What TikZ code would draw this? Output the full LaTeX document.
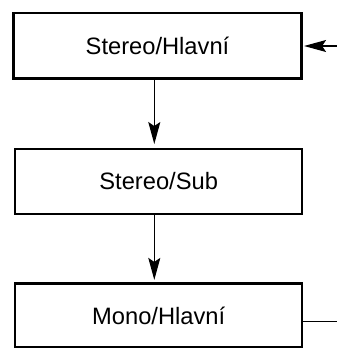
\documentclass[tikz,border=0pt]{standalone}
\usepackage{fontspec}
\setmainfont{Liberation Sans}
\usetikzlibrary{arrows.meta}
\begin{document}
\begin{tikzpicture}[x=1pt,y=-1pt,
  box/.style={draw,line width=2.2pt,inner sep=0pt,font=\fontsize{23.7}{28}\selectfont},
  arr/.style={line width=1.2pt,-{Stealth[length=22pt,width=12pt,inset=4pt]}},
  plain/.style={line width=1.2pt}]
\useasboundingbox (0,0) rectangle (337,349);
\node[box,minimum width=288pt,minimum height=65.2pt] (b1) at (157.5,45.9) {Stereo/Hlavní};
\node[box,minimum width=286.7pt,minimum height=65.3pt] (b2) at (158.7,181.3) {Stereo/Sub};
\node[box,minimum width=286.7pt,minimum height=63.8pt] (b3) at (158.7,315.4) {Mono/Hlavní};
\coordinate (ax) at (154.3,0);
\coordinate (in) at (337,46);
\coordinate (out) at (337,321.7);
\draw[arr,shorten >=3.5pt] (b1.south -| ax) -- (b2.north -| ax);
\draw[arr,shorten >=2.5pt] (b2.south -| ax) -- (b3.north -| ax);
\draw[arr,shorten >=1.5pt] (in) -- (b1.east |- in);
\draw[plain] (b3.east |- out) -- (out);
\end{tikzpicture}
\end{document}
